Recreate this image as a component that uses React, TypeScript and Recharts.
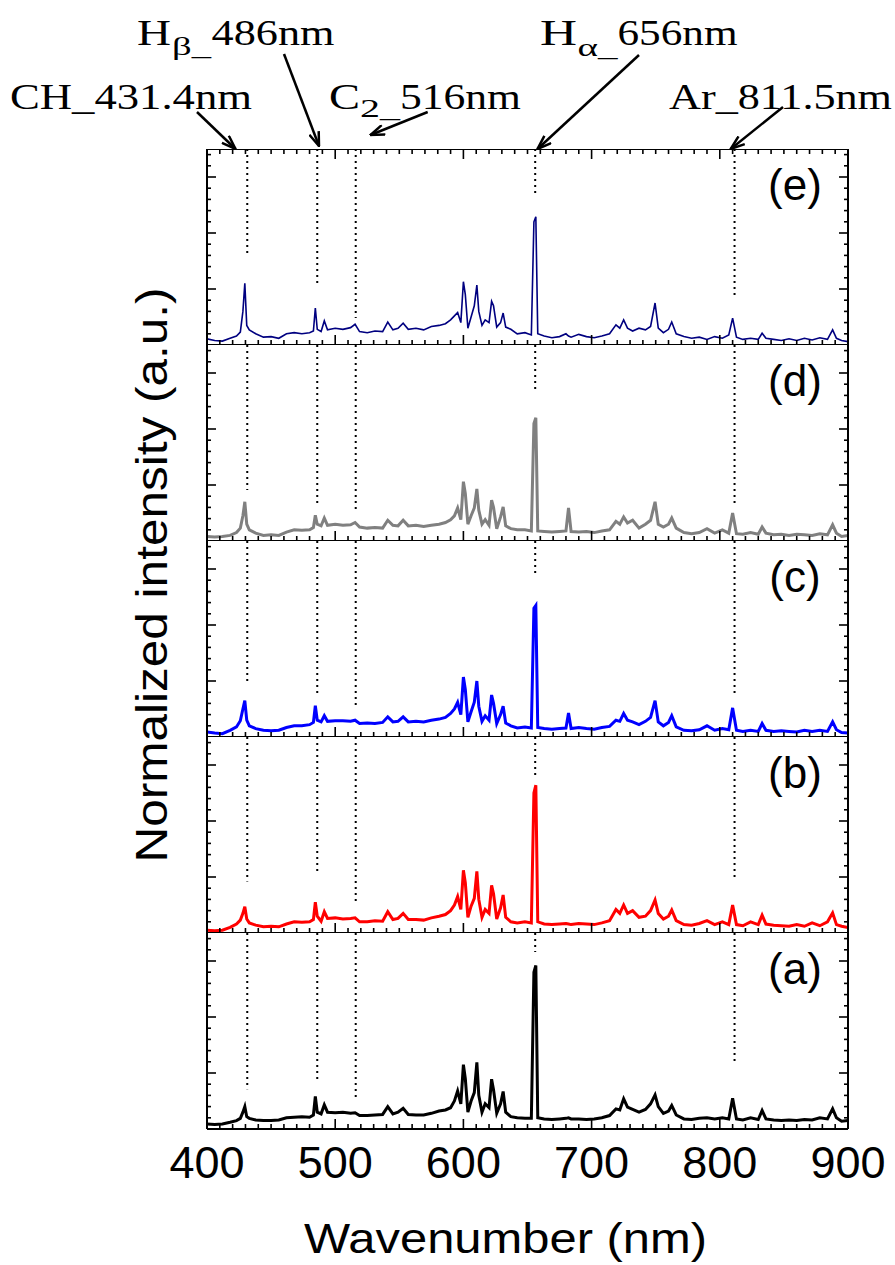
import React from 'react';
import { LineChart, Line, XAxis, YAxis, ReferenceLine } from 'recharts';

// wavelength grid (nm) shared by all five spectra
const wavelengths = [
  400, 406, 412, 418, 423, 426, 428, 429.5, 431, 433,
  438, 444, 450, 456, 462, 468, 474, 480, 483, 484.5,
  486, 489, 491.5, 494, 500, 506, 512, 515.5, 519, 525,
  531, 537, 541, 545, 549, 553, 557, 563, 569, 575,
  581, 586, 590, 593, 595.5, 598, 600, 601.5, 603.5, 606,
  608.5, 610.5, 612, 614.5, 617, 620, 622, 623.5, 626, 629,
  631, 633, 637, 642, 648, 653, 655, 656.5, 658, 663,
  669, 675, 680, 682, 684, 690, 696, 702, 708, 714,
  719, 722, 725, 728, 732, 737, 742, 746, 749.5, 752,
  756, 760, 762.5, 766, 772, 778, 784, 790, 796, 802,
  807, 810, 813, 818, 824, 830, 833, 836, 842, 848,
  854, 860, 866, 872, 878, 884, 888, 891, 895, 900,
];

const spectrumE = [
  0.11, 0.08, 0.07, 0.12, 0.16, 0.23, 0.6, 1.1, 0.35, 0.27,
  0.2, 0.14, 0.15, 0.12, 0.2, 0.22, 0.2, 0.22, 0.25, 0.66,
  0.28, 0.24, 0.43, 0.27, 0.3, 0.28, 0.31, 0.37, 0.24, 0.22,
  0.25, 0.24, 0.41, 0.27, 0.3, 0.39, 0.28, 0.3, 0.27, 0.33,
  0.35, 0.38, 0.45, 0.52, 0.58, 0.4, 1.13, 0.9, 0.3, 0.5,
  0.7, 1.07, 0.6, 0.35, 0.45, 0.4, 0.78, 0.7, 0.32, 0.4,
  0.57, 0.32, 0.28, 0.2, 0.22, 0.18, 2.2, 2.29, 0.2, 0.16,
  0.13, 0.15, 0.2, 0.16, 0.14, 0.19, 0.15, 0.13, 0.16, 0.2,
  0.36, 0.3, 0.45, 0.3, 0.25, 0.3, 0.27, 0.33, 0.75, 0.3,
  0.22, 0.28, 0.41, 0.2, 0.15, 0.12, 0.14, 0.1, 0.15, 0.12,
  0.18, 0.48, 0.14, 0.1, 0.12, 0.1, 0.21, 0.12, 0.1, 0.08,
  0.11, 0.08, 0.12, 0.09, 0.13, 0.1, 0.27, 0.12, 0.08, 0.06,
];

const spectrumD = [
  0.08, 0.07, 0.08, 0.1, 0.15, 0.23, 0.45, 0.7, 0.3, 0.2,
  0.14, 0.1, 0.11, 0.1, 0.16, 0.2, 0.19, 0.2, 0.24, 0.46,
  0.3, 0.27, 0.41, 0.28, 0.3, 0.28, 0.29, 0.33, 0.25, 0.23,
  0.24, 0.23, 0.37, 0.28, 0.27, 0.37, 0.27, 0.28, 0.26, 0.28,
  0.3, 0.33, 0.38, 0.45, 0.59, 0.38, 1.06, 0.85, 0.3, 0.45,
  0.59, 0.93, 0.55, 0.3, 0.38, 0.28, 0.73, 0.6, 0.22, 0.43,
  0.61, 0.27, 0.22, 0.2, 0.2, 0.18, 2.1, 2.2, 0.18, 0.17,
  0.16, 0.17, 0.18, 0.59, 0.17, 0.16, 0.17, 0.15, 0.18, 0.2,
  0.35, 0.3, 0.43, 0.32, 0.37, 0.23, 0.3, 0.37, 0.7, 0.3,
  0.25, 0.3, 0.41, 0.23, 0.15, 0.13, 0.15, 0.22, 0.14, 0.2,
  0.14, 0.5, 0.13, 0.12, 0.15, 0.12, 0.25, 0.14, 0.11, 0.12,
  0.1, 0.12, 0.11, 0.1, 0.13, 0.11, 0.29, 0.14, 0.08, 0.1,
];

const spectrumC = [
  0.09, 0.07, 0.06, 0.12, 0.18, 0.29, 0.5, 0.65, 0.3, 0.2,
  0.15, 0.12, 0.11, 0.12, 0.17, 0.2, 0.2, 0.22, 0.26, 0.56,
  0.3, 0.27, 0.38, 0.28, 0.29, 0.29, 0.28, 0.3, 0.24, 0.25,
  0.24, 0.26, 0.36, 0.27, 0.28, 0.36, 0.27, 0.28, 0.27, 0.3,
  0.32, 0.35, 0.42, 0.5, 0.62, 0.4, 1.07, 0.85, 0.27, 0.45,
  0.62, 1.0, 0.55, 0.28, 0.38, 0.3, 0.75, 0.6, 0.24, 0.4,
  0.55, 0.25, 0.2, 0.16, 0.18, 0.16, 2.3, 2.35, 0.17, 0.15,
  0.14, 0.15, 0.16, 0.43, 0.15, 0.17, 0.15, 0.14, 0.17, 0.19,
  0.3, 0.28, 0.42, 0.3, 0.27, 0.22, 0.28, 0.35, 0.65, 0.27,
  0.2, 0.26, 0.38, 0.18, 0.12, 0.11, 0.13, 0.2, 0.12, 0.15,
  0.13, 0.52, 0.12, 0.1, 0.12, 0.1, 0.24, 0.12, 0.1, 0.11,
  0.1, 0.09, 0.12, 0.1, 0.12, 0.1, 0.27, 0.13, 0.08, 0.07,
];

const spectrumB = [
  0.05, 0.04, 0.05, 0.1, 0.16, 0.23, 0.35, 0.47, 0.25, 0.18,
  0.14, 0.11, 0.12, 0.11, 0.16, 0.2, 0.19, 0.2, 0.24, 0.55,
  0.3, 0.21, 0.38, 0.26, 0.27, 0.25, 0.26, 0.27, 0.2, 0.2,
  0.22, 0.21, 0.38, 0.24, 0.26, 0.35, 0.24, 0.24, 0.23, 0.27,
  0.3, 0.33, 0.4, 0.5, 0.65, 0.42, 1.12, 0.9, 0.28, 0.48,
  0.62, 1.1, 0.6, 0.28, 0.42, 0.35, 0.85, 0.7, 0.25, 0.45,
  0.68, 0.28, 0.2, 0.18, 0.2, 0.18, 2.5, 2.64, 0.2, 0.16,
  0.15, 0.16, 0.17, 0.16, 0.15, 0.17, 0.16, 0.15, 0.18, 0.22,
  0.42, 0.35, 0.5, 0.35, 0.4, 0.28, 0.3, 0.4, 0.59, 0.35,
  0.25, 0.3, 0.41, 0.22, 0.15, 0.14, 0.17, 0.22, 0.15, 0.2,
  0.15, 0.5, 0.15, 0.13, 0.2, 0.15, 0.32, 0.16, 0.14, 0.13,
  0.12, 0.15, 0.12, 0.18, 0.13, 0.2, 0.36, 0.15, 0.12, 0.1,
];

const spectrumA = [
  0.09, 0.08, 0.09, 0.12, 0.15, 0.19, 0.3, 0.4, 0.22, 0.19,
  0.16, 0.15, 0.15, 0.16, 0.2, 0.21, 0.22, 0.21, 0.25, 0.58,
  0.3, 0.27, 0.43, 0.3, 0.29, 0.3, 0.28, 0.29, 0.24, 0.24,
  0.25, 0.26, 0.4, 0.27, 0.3, 0.37, 0.26, 0.25, 0.25, 0.28,
  0.32, 0.34, 0.38, 0.5, 0.68, 0.45, 1.15, 0.9, 0.3, 0.5,
  0.65, 1.19, 0.6, 0.3, 0.45, 0.38, 0.89, 0.7, 0.28, 0.45,
  0.67, 0.3, 0.22, 0.2, 0.19, 0.19, 2.8, 2.92, 0.2, 0.18,
  0.17, 0.18, 0.19, 0.2, 0.18, 0.18, 0.17, 0.18, 0.2, 0.24,
  0.36, 0.34, 0.54, 0.39, 0.35, 0.3, 0.35, 0.45, 0.61, 0.4,
  0.28, 0.32, 0.42, 0.25, 0.18, 0.17, 0.19, 0.2, 0.18, 0.2,
  0.18, 0.55, 0.18, 0.16, 0.2, 0.17, 0.33, 0.18, 0.16, 0.15,
  0.16, 0.15, 0.17, 0.16, 0.2, 0.18, 0.36, 0.2, 0.14, 0.15,
];

// emission lines marked with dotted guides: CH, Hb, C2, Ha, Ar
const emissionLines = [431.4, 486, 516, 656, 811.5];

const majorX = [400, 500, 600, 700, 800, 900];
const minorX = Array.from({ length: 51 }, (_, i) => 400 + i * 10).filter((v) => v % 100 !== 0);
const majorY = [1, 2, 3];
const minorY = Array.from({ length: 17 }, (_, i) => Math.round((i + 1) * 2) / 10).filter((v) => v % 1 !== 0);

const SANS = '"Liberation Sans", Arial, sans-serif';
const SERIF = '"Liberation Serif", "Times New Roman", serif';

const PLOT_LEFT = 207;
const PLOT_RIGHT = 848;
const PANEL_TOP = 149;
const PANEL_H = 196;
const Y_MAX = 3.5;
// axes drawn inside the frame need a non-zero size or recharts skips them
const THIN = 0.01;

const panels = [
  { label: '(e)', color: '#000080', width: 1.6, values: spectrumE, guideEnds: [1.61, 1.04, 0.48, 2.68, 0.86] },
  { label: '(d)', color: '#808080', width: 3, values: spectrumD, guideEnds: [0.91, 0.68, 0.5, 2.67, 0.68] },
  { label: '(c)', color: '#0000ff', width: 3, values: spectrumC, guideEnds: [0.95, 0.74, 0.54, 2.88, 0.74] },
  { label: '(b)', color: '#ff0000', width: 3, values: spectrumB, guideEnds: [0.92, 1.07, 0.5, 2.82, 0.95] },
  { label: '(a)', color: '#000000', width: 3, values: spectrumA, guideEnds: [0.71, 0.89, 0.54, 3.16, 1.16] },
];

const frame = { stroke: '#000', strokeWidth: 2 };
const tickStroke = { stroke: '#000', strokeWidth: 1.6 };
// tick marks only, no labels (tick={false} would drop the marks too)
const noLabel = () => <g />;

const renderXLabel = (props: any) => {
  const vb = props.viewBox || {};
  return (
    <text
      x={vb.x + vb.width / 2 - 22}
      y={vb.y + 124}
      textAnchor="middle"
      fontFamily={SANS}
      fontSize={42}
      fill="#000"
      textLength={403}
      lengthAdjust="spacingAndGlyphs"
    >
      Wavenumber (nm)
    </text>
  );
};

const Panel = ({ panel, index, last }: { panel: (typeof panels)[number]; index: number; last: boolean }) => {
  const data = wavelengths.map((w, i) => ({ w, v: panel.values[i] }));
  const extra = last ? 135 : 0;
  const xCommon = { dataKey: 'w', type: 'number' as const, domain: [400, 900], allowDataOverflow: true, interval: 0 as const };
  const yCommon = { type: 'number' as const, domain: [0, Y_MAX], allowDataOverflow: true, interval: 0 as const, width: THIN, mirror: true, tick: noLabel };

  return (
    <div style={{ position: 'absolute', left: 0, top: PANEL_TOP + index * PANEL_H, width: 895, height: PANEL_H + extra }}>
      <LineChart
        width={895}
        height={PANEL_H + extra}
        data={data}
        margin={{ top: 0, right: 895 - PLOT_RIGHT, bottom: 0, left: PLOT_LEFT }}
      >
        <XAxis xAxisId="x" {...xCommon} ticks={majorX} orientation="bottom" mirror height={THIN} tick={noLabel} tickSize={10} axisLine={frame} tickLine={tickStroke} />
        <XAxis xAxisId="xm" {...xCommon} ticks={minorX} orientation="bottom" mirror height={THIN} tick={noLabel} tickSize={5} axisLine={false} tickLine={tickStroke} />
        {index === 0 && (
          <XAxis xAxisId="xt" {...xCommon} ticks={majorX} orientation="top" mirror height={THIN} tick={noLabel} tickSize={10} axisLine={frame} tickLine={tickStroke} />
        )}
        {index === 0 && (
          <XAxis xAxisId="xtm" {...xCommon} ticks={minorX} orientation="top" mirror height={THIN} tick={noLabel} tickSize={5} axisLine={false} tickLine={tickStroke} />
        )}
        {last && (
          <XAxis
            xAxisId="lbl"
            {...xCommon}
            ticks={majorX}
            orientation="bottom"
            height={135}
            tickSize={0}
            tickMargin={17}
            axisLine={false}
            tickLine={false}
            tick={{ fill: '#000', fontSize: 45, fontFamily: SANS }}
            label={{ content: renderXLabel }}
          />
        )}
        <YAxis yAxisId="y" {...yCommon} ticks={majorY} orientation="left" tickSize={9} axisLine={frame} tickLine={tickStroke} />
        <YAxis yAxisId="ym" {...yCommon} ticks={minorY} orientation="left" tickSize={4} axisLine={false} tickLine={tickStroke} />
        <YAxis yAxisId="yr" {...yCommon} ticks={majorY} orientation="right" tickSize={9} axisLine={frame} tickLine={tickStroke} />
        <YAxis yAxisId="yrm" {...yCommon} ticks={minorY} orientation="right" tickSize={4} axisLine={false} tickLine={tickStroke} />
        {emissionLines.map((wl, k) => (
          <ReferenceLine
            key={wl}
            xAxisId="x"
            yAxisId="y"
            segment={[
              { x: wl, y: Y_MAX },
              { x: wl, y: panel.guideEnds[k] },
            ]}
            stroke="#000"
            strokeWidth={2}
            strokeDasharray="2 4"
          />
        ))}
        <Line
          xAxisId="x"
          yAxisId="y"
          dataKey="v"
          type="linear"
          stroke={panel.color}
          strokeWidth={panel.width}
          dot={false}
          isAnimationActive={false}
        />
      </LineChart>
    </div>
  );
};

// arrows from the line labels down to the top frame
const arrows = [
  { x1: 197, y1: 112, x2: 235.5, y2: 149 },
  { x1: 284, y1: 54, x2: 319, y2: 146 },
  { x1: 427.7, y1: 112, x2: 370.5, y2: 135 },
  { x1: 639, y1: 55, x2: 537.5, y2: 149 },
  { x1: 783, y1: 107, x2: 730.7, y2: 149 },
];

const Overlay = () => (
  <svg width={895} height={1265} style={{ position: 'absolute', left: 0, top: 0, pointerEvents: 'none' }}>
    <defs>
      <marker id="vhead" viewBox="0 0 16 12" refX={15} refY={6} markerWidth={16} markerHeight={12} markerUnits="userSpaceOnUse" orient="auto">
        <path d="M1,1 L15,6 L1,11" fill="none" stroke="#000" strokeWidth={2.5} />
      </marker>
    </defs>
    {arrows.map((a, i) => (
      <line key={i} x1={a.x1} y1={a.y1} x2={a.x2} y2={a.y2} stroke="#000" strokeWidth={2.5} markerEnd="url(#vhead)" />
    ))}

    <g fontFamily={SERIF} fill="#000">
      <text x={10} y={109} fontSize={36} textLength={242} lengthAdjust="spacingAndGlyphs">CH_431.4nm</text>

      <text x={137} y={45} fontSize={36} textLength={34} lengthAdjust="spacingAndGlyphs">H</text>
      <text x={172} y={55} fontSize={26} textLength={39} lengthAdjust="spacingAndGlyphs">β_</text>
      <text x={211.5} y={45} fontSize={36} textLength={123} lengthAdjust="spacingAndGlyphs">486nm</text>

      <text x={329} y={109} fontSize={36} textLength={31} lengthAdjust="spacingAndGlyphs">C</text>
      <text x={360} y={117} fontSize={26} textLength={40} lengthAdjust="spacingAndGlyphs">2_</text>
      <text x={400} y={109} fontSize={36} textLength={121} lengthAdjust="spacingAndGlyphs">516nm</text>

      <text x={540} y={45} fontSize={36} textLength={37} lengthAdjust="spacingAndGlyphs">H</text>
      <text x={577.5} y={56} fontSize={26} textLength={40} lengthAdjust="spacingAndGlyphs">α_</text>
      <text x={617.5} y={45} fontSize={36} textLength={120} lengthAdjust="spacingAndGlyphs">656nm</text>

      <text x={669} y={109} fontSize={36} textLength={223} lengthAdjust="spacingAndGlyphs">Ar_811.5nm</text>
    </g>

    <g fontFamily={SANS} fill="#000">
      {panels.map((p, i) => (
        <text key={p.label} x={795} y={PANEL_TOP + i * PANEL_H + 51} fontSize={44} textAnchor="middle">
          {p.label}
        </text>
      ))}
      <text
        x={167}
        y={575}
        fontSize={44}
        textAnchor="middle"
        transform="rotate(-90 167 575)"
        textLength={575}
        lengthAdjust="spacingAndGlyphs"
      >
        Normalized intensity (a.u.)
      </text>
    </g>
  </svg>
);

export default function App() {
  return (
    <div style={{ position: 'absolute', left: 0, top: 0, width: 895, height: 1265, background: '#fff' }}>
      {panels.map((p, i) => (
        <Panel key={p.label} panel={p} index={i} last={i === panels.length - 1} />
      ))}
      <Overlay />
    </div>
  );
}
